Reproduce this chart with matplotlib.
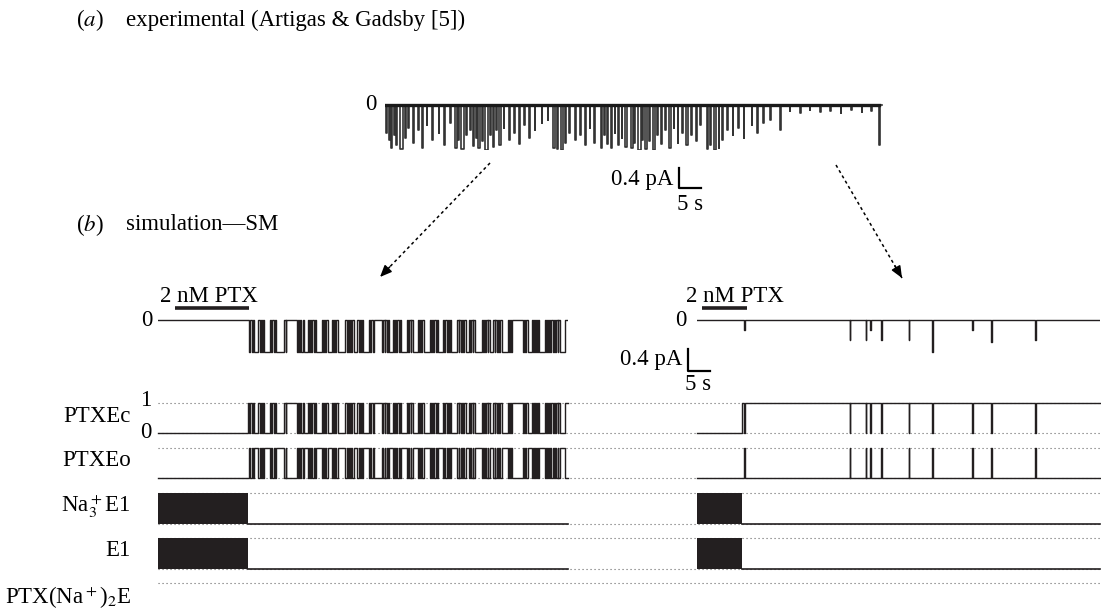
import matplotlib
matplotlib.use('Agg')
import matplotlib.pyplot as plt

plt.rcParams['font.family'] = ['Liberation Serif', 'DejaVu Serif']
plt.rcParams['mathtext.fontset'] = 'stix'

# ---- data -------------------------------------------------------------
# (a) experimental record: openings as (start s, duration s, depth pA)
exp_t_end = 113.0
exp_events = [
    (0.3, 0.2, 0.55), (0.9, 0.15, 0.70), (1.4, 0.3, 0.85), (2.0, 0.2, 0.60), (2.6, 0.2, 0.80),
    (3.3, 0.9, 0.88), (4.5, 0.2, 0.65), (5.3, 0.15, 0.45), (6.4, 0.2, 0.75), (7.6, 0.15, 0.50),
    (8.4, 0.3, 0.85), (9.5, 0.15, 0.40), (10.6, 0.2, 0.70), (12.2, 0.15, 0.55), (13.4, 0.2, 0.80),
    (14.8, 0.15, 0.35), (16.0, 0.3, 0.85), (16.7, 0.2, 0.70), (17.3, 0.6, 0.88), (18.4, 0.2, 0.60),
    (19.3, 0.15, 0.50), (19.9, 0.3, 0.82), (20.6, 0.2, 0.65), (21.2, 0.5, 0.86), (22.1, 0.2, 0.72),
    (22.7, 0.8, 0.90), (23.9, 0.2, 0.60), (24.5, 0.3, 0.84), (25.3, 0.15, 0.50), (26.0, 0.4, 0.80),
    (27.0, 0.15, 0.45), (28.2, 0.2, 0.70), (29.3, 0.15, 0.55), (30.4, 0.25, 0.78), (31.6, 0.15, 0.40),
    (32.8, 0.2, 0.65), (34.0, 0.15, 0.50), (35.6, 0.15, 0.35), (37.0, 0.15, 0.30), (38.2, 0.5, 0.85),
    (39.1, 0.3, 0.88), (39.9, 0.6, 0.90), (41.0, 0.2, 0.75), (41.8, 0.15, 0.55), (43.2, 0.2, 0.70),
    (44.3, 0.15, 0.60), (45.4, 0.25, 0.80), (46.5, 0.15, 0.45), (47.6, 0.2, 0.75), (49.0, 0.3, 0.85),
    (49.8, 0.15, 0.60), (50.5, 0.2, 0.78), (51.3, 0.4, 0.86), (52.2, 0.15, 0.55), (52.9, 0.25, 0.80),
    (53.8, 0.15, 0.65), (54.6, 0.3, 0.84), (56.0, 0.3, 0.86), (56.7, 0.2, 0.75), (57.4, 0.7, 0.90),
    (58.5, 0.2, 0.70), (59.2, 0.4, 0.88), (60.1, 0.2, 0.72), (60.9, 0.5, 0.90), (61.9, 0.15, 0.60),
    (62.8, 0.2, 0.78), (63.7, 0.15, 0.50), (64.6, 0.3, 0.85), (65.6, 0.15, 0.45), (66.5, 0.2, 0.75),
    (67.6, 0.15, 0.55), (68.5, 0.25, 0.80), (69.6, 0.15, 0.60), (70.6, 0.2, 0.72), (71.7, 0.15, 0.40),
    (73.1, 0.3, 0.88), (73.9, 0.2, 0.80), (74.7, 0.5, 0.90), (75.8, 0.2, 0.85), (76.7, 0.15, 0.70),
    (77.8, 0.15, 0.50), (79.0, 0.2, 0.60), (80.3, 0.15, 0.45), (81.5, 0.2, 0.65), (83.3, 0.15, 0.40),
    (84.6, 0.15, 0.55), (86.0, 0.15, 0.35), (87.5, 0.15, 0.30), (89.8, 0.15, 0.50), (92.0, 0.1, 0.12),
    (94.4, 0.1, 0.15), (96.5, 0.1, 0.10), (98.9, 0.1, 0.14), (101.2, 0.1, 0.12), (103.6, 0.1, 0.16),
    (106.0, 0.1, 0.10), (108.3, 0.1, 0.13), (110.5, 0.1, 0.11), (112.3, 0.3, 0.80),
]

# (b) simulation
sim_amp = 0.58            # pA, single-channel amplitude

left_end = 93.2
left_bind = 20.5          # PTX binds, Na/E1 cycling stops
left_ptx = (3.9, 20.7)    # 2 nM PTX application
left_open = [
    (20.6, 21.0), (21.3, 21.5), (21.9, 22.8), (23.1, 23.3), (23.6, 23.8), (24.2, 25.4),
    (25.7, 25.9), (26.3, 26.5), (26.9, 28.7), (29.0, 29.2), (31.5, 31.8), (32.1, 32.3),
    (32.6, 32.9), (33.2, 34.0), (34.3, 34.5), (34.8, 35.0), (35.4, 35.6), (35.9, 37.2),
    (37.5, 37.7), (38.0, 38.2), (38.6, 39.5), (39.8, 40.0), (40.3, 40.5), (41.0, 42.6),
    (42.9, 43.1), (43.4, 43.6), (43.9, 44.1), (44.5, 45.3), (45.6, 45.8), (46.1, 46.3),
    (46.7, 47.9), (48.2, 48.4), (48.8, 49.0), (51.0, 51.2), (51.5, 51.7), (52.0, 52.2),
    (52.5, 53.4), (53.7, 53.9), (54.2, 54.4), (54.7, 54.9), (55.3, 56.6), (56.9, 57.1),
    (57.4, 57.6), (58.0, 59.0), (59.3, 59.5), (59.8, 60.0), (60.4, 61.8), (62.1, 62.3),
    (62.6, 62.8), (63.2, 63.4), (63.7, 64.8), (65.1, 65.3), (65.6, 65.8), (66.1, 66.3),
    (66.7, 68.0), (68.3, 68.5), (68.8, 69.0), (69.3, 69.5), (69.9, 70.7), (71.0, 71.2),
    (71.5, 71.7), (72.1, 73.6), (73.9, 74.1), (74.4, 74.6), (74.9, 75.1), (75.5, 76.2),
    (76.5, 76.7), (77.0, 77.2), (77.5, 77.7), (78.1, 79.5), (79.8, 80.0), (80.3, 80.5),
    (83.0, 83.2), (83.5, 83.7), (84.0, 84.9), (85.2, 85.4), (85.7, 85.9), (86.2, 86.4),
    (86.7, 87.9), (88.2, 88.4), (88.7, 88.9), (89.2, 89.4), (89.7, 90.0), (90.3, 90.5),
    (90.8, 91.0), (91.3, 92.6),
]

right_end = 91.6
right_bind = 10.2
right_ptx = (1.1, 11.4)
# brief openings: (start, end, filtered current depth pA)
right_open = [
    (10.7, 10.85, 0.19), (34.7, 34.85, 0.37), (38.3, 38.45, 0.37), (39.4, 39.5, 0.19),
    (41.9, 42.05, 0.37), (48.1, 48.25, 0.37), (53.5, 53.7, 0.58), (62.6, 62.7, 0.19),
    (66.9, 67.05, 0.40), (76.9, 77.05, 0.37),
]

state_rows = ['PTXEc', 'PTXEo', r'Na$_3^+$E1', 'E1', r'PTX(Na$^+$)$_2$E']

# ---- layout -----------------------------------------------------------
W, H = 1101, 611
fig = plt.figure(figsize=(W / 100, H / 100), dpi=100)
FS = 16.5
INK = '#231f20'


def box(x0, y0, x1, y1):
    ax = fig.add_axes([x0 / W, 1 - y1 / H, (x1 - x0) / W, (y1 - y0) / H])
    ax.set_axis_off()
    ax.patch.set_alpha(0)
    return ax


def current_xy(opens, t_end, amp=None):
    t, y = [0.0], [0.0]
    for ev in opens:
        a, b = ev[0], ev[1]
        v = -(ev[2] if len(ev) > 2 else amp)
        t += [a, a, b, b]
        y += [0, v, v, 0]
    t.append(t_end)
    y.append(0)
    return t, y


def state_xy(opens, bind, t_end, closed):
    # closed=True -> PTXEc (1 while bound & shut), False -> PTXEo
    base = 1 if closed else 0
    t, y = [0.0, bind, bind], [0, 0, base]
    for ev in opens:
        a, b = ev[0], ev[1]
        if a < bind:
            continue
        t += [a, a, b, b]
        y += [base, 1 - base, 1 - base, base]
    t.append(t_end)
    y.append(base)
    return t, y


bg = fig.add_axes([0, 0, 1, 1])
bg.set_xlim(0, W)
bg.set_ylim(H, 0)
bg.set_axis_off()

# headings
bg.text(76, 20, r'($\mathit{a}$)', fontsize=FS, va='center')
bg.text(126, 20, 'experimental (Artigas & Gadsby [5])', fontsize=FS, va='center')
bg.text(76, 225, r'($\mathit{b}$)', fontsize=FS, va='center')
bg.text(126, 225, 'simulation—SM', fontsize=FS, va='center')

# (a) experimental trace
ax_exp = box(385, 95, 885, 150)
ax_exp.set_xlim(0, 500 / 4.4)
ax_exp.set_ylim(-0.9, 0.2)
t, y = current_xy([(s, s + d, a) for s, d, a in exp_events], exp_t_end)
ax_exp.plot(t, y, color='#333333', lw=1.2)
ax_exp.plot([0, exp_t_end - 0.8], [0.01, 0.01], color='#1a1a1a', lw=2.4)
bg.text(377, 105, '0', fontsize=FS, ha='right', va='center')
# scale bar 0.4 pA / 5 s
sx, sy = 66.8, -1.26
ax_exp.plot([sx, sx, sx + 5], [sy, sy - 0.4, sy - 0.4], color='black', lw=1.6, clip_on=False)
bg.text(673, 179, '0.4 pA', fontsize=FS, ha='right', va='center')
bg.text(690, 204, '5 s', fontsize=FS, ha='center', va='center')

# arrows
for (x0, y0), (x1, y1) in [((490, 163), (380, 277)), ((836, 165), (902, 278))]:
    bg.plot([x0, x1], [y0, y1], color='black', lw=1.1, ls=(0, (2, 2)))
    dx, dy = (x1 - x0), (y1 - y0)
    n = (dx * dx + dy * dy) ** 0.5
    bg.annotate('', xy=(x1, y1), xytext=(x1 - dx / n * 14, y1 - dy / n * 14),
                arrowprops=dict(arrowstyle='-|>,head_length=0.7,head_width=0.3',
                                color='black', lw=1.1, shrinkA=0, shrinkB=0))

# (b) simulated currents
panels = [
    (158, 568, left_end, left_bind, left_ptx, left_open, 153, 160),
    (697, 1100, right_end, right_bind, right_ptx, right_open, 687, 686),
]
px_pa = 55.0
rows_px = [(403, 433), (448, 478), (493, 524), (538, 569)]

for x0, x1, t_end, bind, ptx, opens, zero_x, lab_x in panels:
    ax = box(x0, 300, x1, 360)
    ax.set_xlim(0, (x1 - x0) / 4.4)
    ax.set_ylim(-40 / px_pa, 20 / px_pa)
    t, y = current_xy(opens, t_end, sim_amp)
    ax.plot(t, y, color=INK, lw=1.0)
    ax.plot(ptx, [12 / px_pa] * 2, color=INK, lw=2.6, clip_on=False, solid_capstyle='butt')
    bg.text(zero_x, 320, '0', fontsize=FS, ha='right', va='center')
    bg.text(lab_x, 296, '2 nM PTX', fontsize=FS, va='center')

    # state rows
    for i, (top, bot) in enumerate(rows_px):
        ar = box(x0, top, x1, bot)
        ar.set_xlim(0, (x1 - x0) / 4.4)
        ar.set_ylim(0, 1)
        if i < 2:
            t, y = state_xy(opens, bind, t_end, closed=(i == 0))
            ar.plot(t, y, color=INK, lw=1.0, clip_on=False)
        else:
            ar.fill_between([0, bind], 0, 1, color=INK, lw=0)
            ar.plot([bind, t_end], [0, 0], color=INK, lw=1.2, clip_on=False)

    if x0 > 600:
        sx = -2.05
        sy = -29 / px_pa
        ax.plot([sx, sx, sx + 5], [sy, sy - 0.4, sy - 0.4], color='black', lw=1.6, clip_on=False)
        bg.text(682, 359, '0.4 pA', fontsize=FS, ha='right', va='center')
        bg.text(698, 385, '5 s', fontsize=FS, ha='center', va='center')

# dotted guide lines for state rows
for top, bot in rows_px + [(583, None)]:
    for yy in (top, bot):
        if yy is not None:
            bg.plot([158, 1100], [yy, yy], color='#666666', lw=0.8, ls=(0, (1, 2.6)), zorder=0)

# row labels
label_y = [416, 461, 506, 551, 598]
for name, yy in zip(state_rows, label_y):
    bg.text(131, yy, name, fontsize=FS, ha='right', va='center')
bg.text(146, 401, '1', fontsize=FS, ha='center', va='center')
bg.text(146, 433, '0', fontsize=FS, ha='center', va='center')

fig.savefig('out.png', dpi=100)
